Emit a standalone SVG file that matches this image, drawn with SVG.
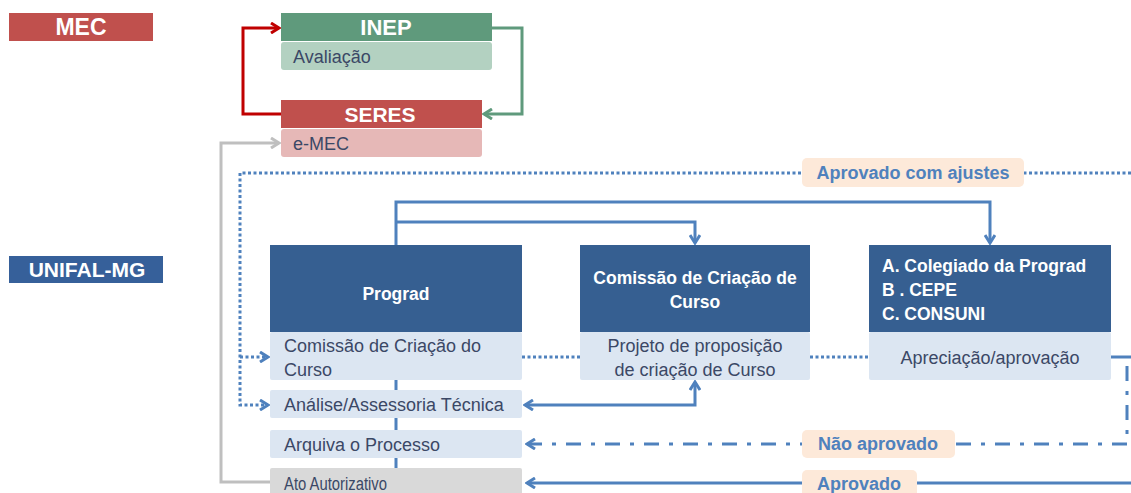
<svg xmlns="http://www.w3.org/2000/svg" width="1131" height="493" viewBox="0 0 1131 493">
<style>
.hdr{font-family:"Liberation Sans",Arial,sans-serif;font-weight:bold;fill:#ffffff}
.sub{font-family:"Liberation Sans",Arial,sans-serif;font-size:18px;fill:#3b4866}
.lbl{font-family:"Liberation Sans",Arial,sans-serif;font-weight:bold;font-size:18px;fill:#4f81bd}
.blue{fill:none;stroke:#4f81bd;stroke-width:3}
.dot{fill:none;stroke:#4f81bd;stroke-width:3;stroke-dasharray:3 2.5}
.dashdot{fill:none;stroke:#4f81bd;stroke-width:3;stroke-dasharray:15 10 4 10}
.peach{fill:#fde9d9}
.dk{fill:#365f91}
.lt{fill:#dce6f2}
</style>
<defs>
<marker id="aB" viewBox="0 0 12 12" refX="10" refY="6" markerWidth="12" markerHeight="12" markerUnits="userSpaceOnUse" orient="auto-start-reverse"><path d="M2,1 L10,6 L2,11" fill="none" stroke="#4f81bd" stroke-width="3"/></marker>
<marker id="aR" viewBox="0 0 12 12" refX="10" refY="6" markerWidth="12" markerHeight="12" markerUnits="userSpaceOnUse" orient="auto"><path d="M2,1 L10,6 L2,11" fill="none" stroke="#c00000" stroke-width="3"/></marker>
<marker id="aG" viewBox="0 0 12 12" refX="10" refY="6" markerWidth="12" markerHeight="12" markerUnits="userSpaceOnUse" orient="auto"><path d="M2,1 L10,6 L2,11" fill="none" stroke="#5f9a7c" stroke-width="3"/></marker>
<marker id="aY" viewBox="0 0 12 12" refX="10" refY="6" markerWidth="12" markerHeight="12" markerUnits="userSpaceOnUse" orient="auto"><path d="M2,1 L10,6 L2,11" fill="none" stroke="#bfbfbf" stroke-width="3"/></marker>
</defs>
<rect width="1131" height="493" fill="#ffffff"/>

<g id="connectors">
<path d="M281,114 H243 V28 H279" fill="none" stroke="#c00000" stroke-width="3" marker-end="url(#aR)"/>
<path d="M492,28 H522 V114 H484" fill="none" stroke="#5f9a7c" stroke-width="3" marker-end="url(#aG)"/>
<path d="M270,482 H221 V143 H279" fill="none" stroke="#bfbfbf" stroke-width="3" marker-end="url(#aY)"/>
<path class="blue" d="M396,245 V202 H990 V243" marker-end="url(#aB)"/>
<path class="blue" d="M396,222 H695 V243" marker-end="url(#aB)"/>
<path class="blue" d="M525,405 H695 V382" marker-start="url(#aB)" marker-end="url(#aB)"/>
<path class="blue" d="M396,380 V390 M396,418 V430 M396,458 V468"/>
<path class="dot" d="M1131,173 H240 V405 H268" marker-end="url(#aB)"/>
<path class="dot" d="M240,357 H268" marker-end="url(#aB)"/>
<path class="dot" d="M522,357 H580 M810,357 H869"/>
<path class="blue" d="M1111,357 H1131"/>
<path class="dashdot" d="M1127,366 V444 H527" marker-end="url(#aB)"/>
<path class="blue" d="M1131,483 H527" marker-end="url(#aB)"/>
<g id="lbl-ajustes"><rect class="peach" x="802" y="158" width="222" height="29" rx="5"/><text class="lbl" x="913" y="179" text-anchor="middle">Aprovado com ajustes</text></g>
<g id="lbl-nao"><rect class="peach" x="802" y="430" width="153" height="28" rx="5"/><text class="lbl" x="878" y="450" text-anchor="middle">Não aprovado</text></g>
<g id="lbl-aprovado"><rect class="peach" x="802" y="470" width="115" height="28" rx="5"/><text class="lbl" x="859" y="490" text-anchor="middle">Aprovado</text></g>
</g>

<g id="mec"><rect x="9" y="13" width="144" height="28" fill="#c0504d"/><text class="hdr" x="81" y="35" font-size="23" text-anchor="middle">MEC</text></g>
<g id="unifal"><rect x="9" y="256" width="154" height="27" fill="#36609a"/><text class="hdr" x="87" y="277" font-size="21" text-anchor="middle">UNIFAL-MG</text></g>

<g id="inep">
<rect x="281" y="13" width="211" height="28" fill="#5f9a7c"/>
<text class="hdr" x="386" y="35" font-size="22" text-anchor="middle">INEP</text>
<rect x="281" y="42" width="211" height="28" rx="3" fill="#b3d1c1"/>
<text class="sub" x="293" y="63">Avaliação</text>
</g>

<g id="seres">
<rect x="281" y="100" width="201" height="28" fill="#c0504d"/>
<text class="hdr" x="380" y="122" font-size="21" text-anchor="middle">SERES</text>
<rect x="281" y="129" width="201" height="28" rx="3" fill="#e6b8b7"/>
<text class="sub" x="293" y="150">e-MEC</text>
</g>

<g id="prograd">
<rect class="dk" x="270" y="245" width="252" height="87"/>
<text class="hdr" x="396" y="300" font-size="17.5" text-anchor="middle">Prograd</text>
<rect class="lt" x="270" y="332" width="252" height="48" rx="2"/>
<text class="sub" x="284" y="352">Comissão de Criação do</text>
<text class="sub" x="284" y="376">Curso</text>
</g>
<g id="analise"><rect class="lt" x="270" y="390" width="252" height="28" rx="2"/><text class="sub" x="284" y="411">Análise/Assessoria Técnica</text></g>
<g id="arquiva"><rect class="lt" x="270" y="430" width="252" height="28" rx="2"/><text class="sub" x="284" y="451">Arquiva o Processo</text></g>
<g id="ato"><rect x="270" y="468" width="252" height="30" rx="2" fill="#d9d9d9"/><text class="sub" x="284" y="490" textLength="103" lengthAdjust="spacingAndGlyphs">Ato Autorizativo</text></g>

<g id="comissao">
<rect class="dk" x="580" y="245" width="230" height="87"/>
<text class="hdr" x="695" y="284" font-size="17.5" text-anchor="middle">Comissão de Criação de</text>
<text class="hdr" x="695" y="308" font-size="17.5" text-anchor="middle">Curso</text>
<rect class="lt" x="580" y="332" width="230" height="48" rx="2"/>
<text class="sub" x="695" y="352" text-anchor="middle">Projeto de proposição</text>
<text class="sub" x="695" y="376" text-anchor="middle">de criação de Curso</text>
</g>

<g id="consuni">
<rect class="dk" x="869" y="245" width="242" height="87"/>
<text class="hdr" x="882" y="272" font-size="17.5">A. Colegiado da Prograd</text>
<text class="hdr" x="882" y="296" font-size="17.5">B . CEPE</text>
<text class="hdr" x="882" y="320" font-size="17.5">C. CONSUNI</text>
<rect class="lt" x="869" y="332" width="242" height="48" rx="2"/>
<text class="sub" x="990" y="364" text-anchor="middle">Apreciação/aprovação</text>
</g>
</svg>
